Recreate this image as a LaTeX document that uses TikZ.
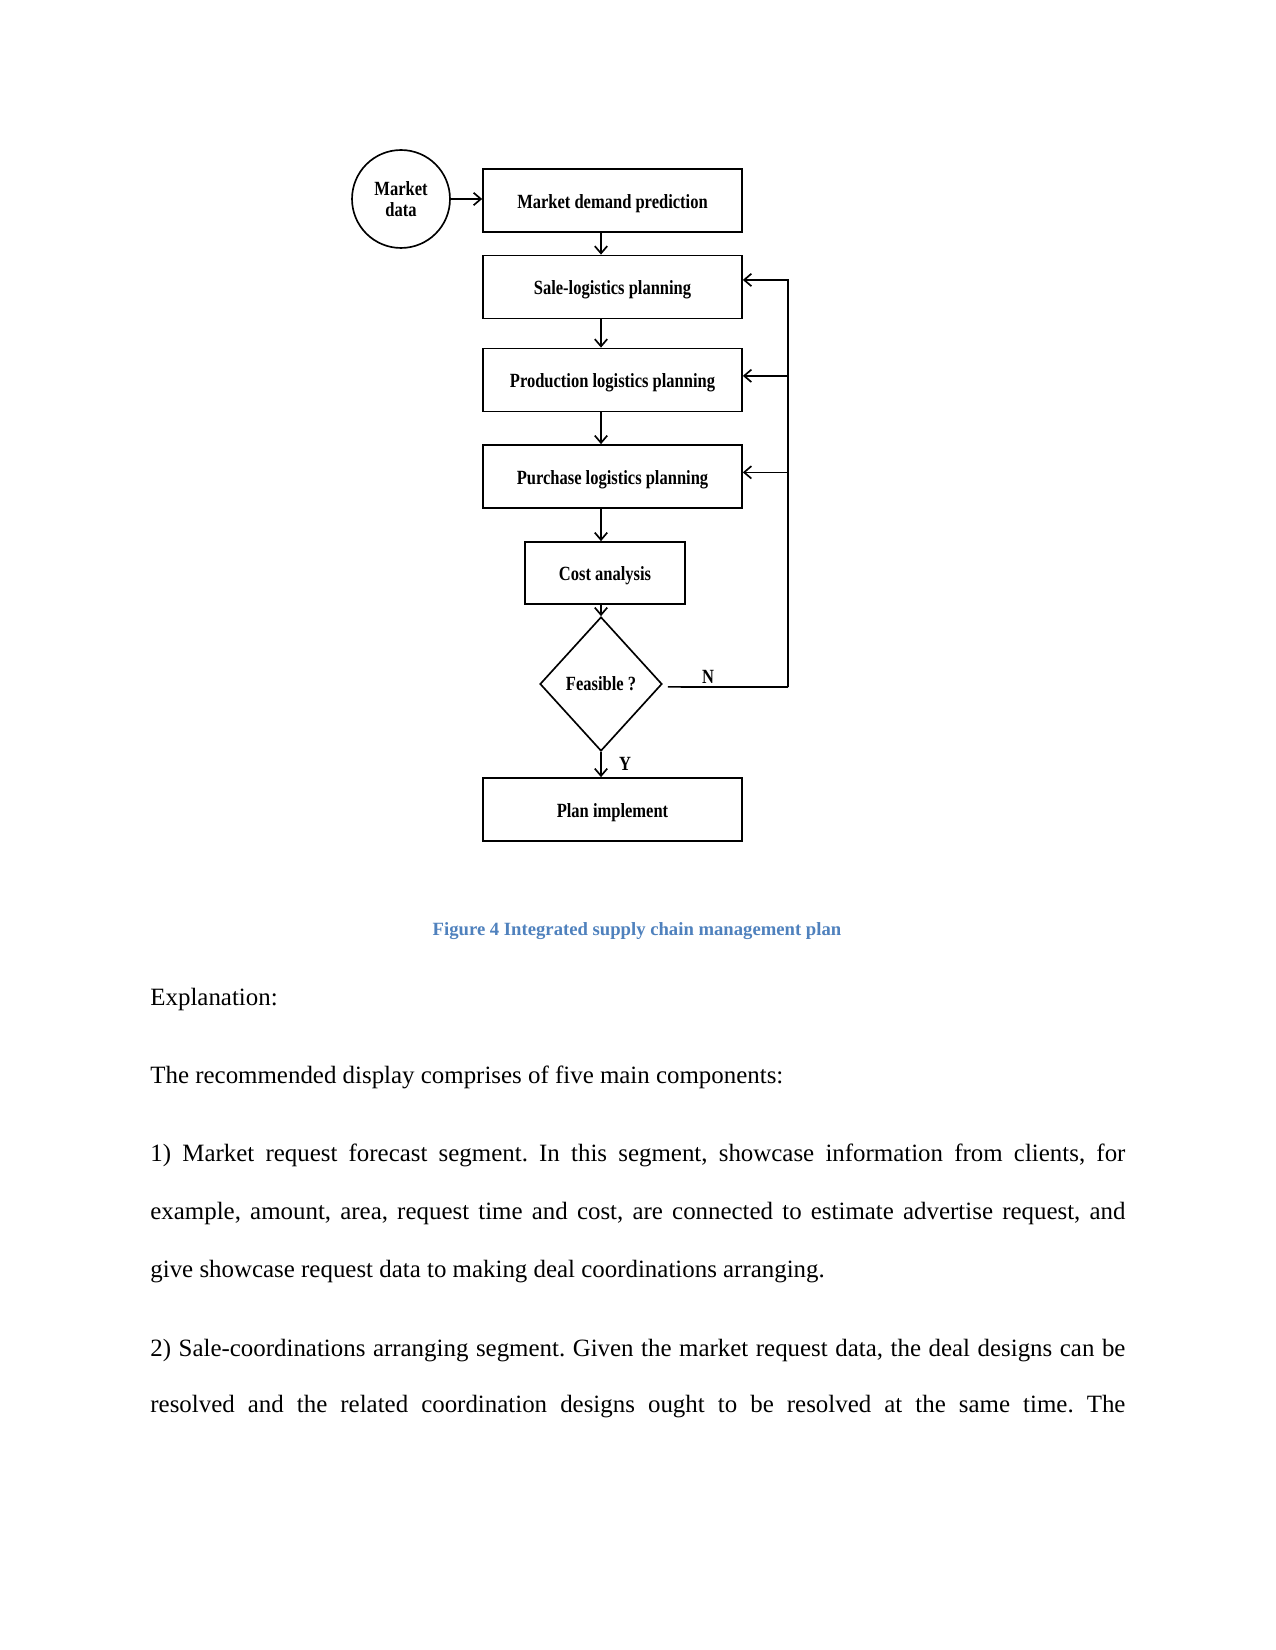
\documentclass[tikz,border=0pt]{standalone}
\usepackage{fontspec}
\setmainfont{Liberation Serif}
\newfontfamily\diagfont[FakeStretch=0.82]{Liberation Serif}
\usetikzlibrary{shapes.geometric,arrows.meta}
\definecolor{capblue}{RGB}{79,129,189}
\newcommand\fullline[1]{\makebox[6.5in][s]{#1}}
\frenchspacing

\begin{document}
\begin{tikzpicture}[x=0.4818pt,y=-0.4818pt,
  diag/.style={draw,line width=0.8pt,inner sep=0pt,font=\diagfont\bfseries\fontsize{9.7}{11.5}\selectfont},
  box/.style={diag,minimum width=124.8pt,minimum height=30.4pt,text height=7.5pt,text depth=0.2pt},
  smallbox/.style={box,minimum width=77.1pt,minimum height=29.9pt},
  circ/.style={diag,circle,minimum size=47.2pt,align=center,font=\diagfont\bfseries\fontsize{9.7}{10.2}\selectfont},
  decision/.style={diag,diamond,minimum width=58.8pt,minimum height=64.6pt},
  lbl/.style={inner sep=0pt,font=\diagfont\bfseries\fontsize{9.7}{11.5}\selectfont},
  arr/.style={line width=0.8pt,-{Straight Barb[length=3.5pt,width=6pt]}},
  line/.style={line width=0.8pt},
  bodytext/.style={anchor=base west,inner sep=0pt,font=\fontsize{12}{14}\selectfont}]
\useasboundingbox (0,0) rectangle (1275,1650);
% Market data circle (cut at its top)
\begin{scope}
\clip (300,149) rectangle (480,300);
\node[circ] (mkt) at (401,199) {Market\\data};
\end{scope}
% Boxes
\node[box] (mdp) at (612.5,200.5) {Market demand prediction};
\node[box] (slp) at (612.5,287) {Sale-logistics planning};
\node[box] (plp) at (612.5,380) {Production logistics planning};
\node[box] (pup) at (612.5,476.5) {Purchase logistics planning};
\node[smallbox] (cost) at (605,573) {Cost analysis};
\node[decision] (feas) at (601,684) {Feasible ?};
\node[box] (plan) at (612.5,809.5) {Plan implement};
% Main flow
\draw[arr] (mkt.east) -- (mkt.east -| mdp.west);
\draw[arr] (mdp.south -| feas) -- (slp.north -| feas);
\draw[arr] (slp.south -| feas) -- (plp.north -| feas);
\draw[arr] (plp.south -| feas) -- (pup.north -| feas);
\draw[arr] (pup.south -| feas) -- (cost.north -| feas);
\draw[arr] (cost.south -| feas) -- (feas.north);
\draw[arr] (feas.south) -- (plan.north -| feas);
% Feedback loop
\coordinate (fb) at (788,687);
\coordinate (slpin) at ([yshift=3.4pt]slp.east);
\coordinate (plpin) at ([yshift=2pt]plp.east);
\coordinate (pupin) at ([yshift=2pt]pup.east);
\draw[line] ([xshift=2.4pt,yshift=-1.4pt]feas.east) -- (fb);
\draw[arr] (fb) |- (slpin);
\draw[arr] (fb |- plpin) -- (plpin);
\draw[arr] (fb |- pupin) -- (pupin);
% Text Node
\node[lbl] (nlab) at (708,677) {N};
\node[lbl] (ylab) at (625,764) {Y};
% Caption
\node[anchor=base,inner sep=0pt,text=capblue,font=\bfseries\fontsize{9}{11}\selectfont] (cap) at (637,935) {Figure 4 Integrated supply chain management plan};
% Body text
\node[bodytext] (expl) at (150,1005) {Explanation:};
\node[bodytext] (intro) at (150,1083) {The recommended display comprises of five main components:};
\node[bodytext] (p1a) at (150,1161) {\fullline{1) Market request forecast segment. In this segment, showcase information from clients, for}};
\node[bodytext] (p1b) at (150,1219) {\fullline{example, amount, area, request time and cost, are connected to estimate advertise request, and}};
\node[bodytext] (p1c) at (150,1277) {give showcase request data to making deal coordinations arranging.};
\node[bodytext] (p2a) at (150,1356) {\fullline{2) Sale-coordinations arranging segment. Given the market request data, the deal designs can be}};
\node[bodytext] (p2b) at (150,1412) {\fullline{resolved and the related coordination designs ought to be resolved at the same time. The}};
\end{tikzpicture}
\end{document}
